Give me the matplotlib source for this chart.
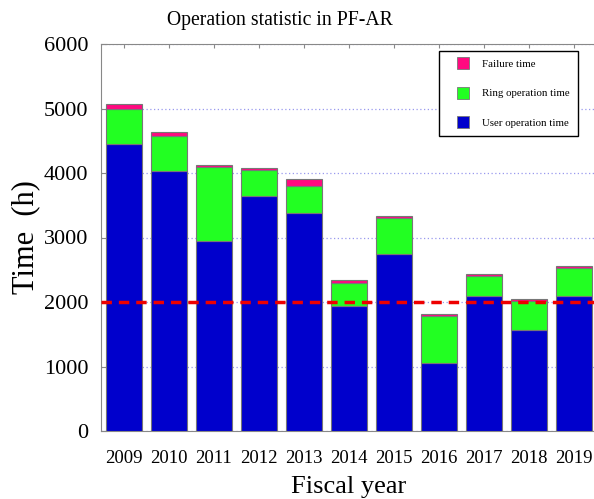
import matplotlib
matplotlib.use("Agg")
import matplotlib.pyplot as plt
from matplotlib.lines import Line2D
import numpy as np

# ── Data ─────────────────────────────────────────────────────────────────────
years = ["2009", "2010", "2011", "2012", "2013", "2014",
         "2015", "2016", "2017", "2018", "2019"]
user_time = [4446, 4036, 2940, 3640, 3373, 1940, 2746, 1062, 2098, 1565, 2088]
ring_time = [539, 534, 1153, 400, 430, 355, 554, 720, 306, 451, 446]
failure_time = [80, 73, 37, 42, 110, 42, 37, 25, 36, 31, 20]
target_line = 2000

colors = {"user": "#0000cc", "ring": "#22ff22", "fail": "#ff0a80"}

plt.rcParams["font.family"] = ["Liberation Serif", "DejaVu Serif"]

fig = plt.figure(figsize=(5.94, 4.99), dpi=100)
ax = fig.add_axes([101 / 594, 1 - 431 / 499, 495.5 / 594, 387 / 499])

x = np.arange(len(years))
edge = dict(edgecolor="#777777", linewidth=0.8, width=0.8)
user = np.array(user_time)
ring = np.array(ring_time)
fail = np.array(failure_time)

ax.bar(x, user, color=colors["user"], zorder=3, **edge)
ax.bar(x, ring, bottom=user, color=colors["ring"], zorder=3, **edge)
ax.bar(x, fail, bottom=user + ring, color=colors["fail"], zorder=3, **edge)

ax.axhline(target_line, color="#ee0000", linestyle=(0, (3, 2)), linewidth=2.5, zorder=4)

ax.set_ylim(0, 6000)
ax.set_xlim(-0.5, len(years) - 0.5)
ax.set_yticks(range(0, 6001, 1000))
ax.set_xticks(x)
ax.set_xticklabels(years, fontsize=13.5)
ax.tick_params(axis="y", labelsize=16, direction="in", length=4, color="#888888", pad=9)
ax.tick_params(axis="x", direction="in", length=3, color="#888888", top=True, pad=14)
ax.yaxis.grid(True, linestyle=(0, (1, 2)), color="#9999ee", linewidth=0.9, zorder=0)
for s in ax.spines.values():
    s.set_color("#888888")

# title sits left of the axes centre in the original
ax.text(0.361, 1.035, "Operation statistic in PF-AR", transform=ax.transAxes,
        ha="center", va="bottom", fontsize=14.2)
ax.set_ylabel("Time  (h)", fontsize=22, labelpad=3)
ax.set_xlabel("Fiscal year", fontsize=19, labelpad=6)

# square markers as legend handles, so the squares sit inset like the original
handles = [Line2D([], [], linestyle="none", marker="s", markersize=9.3,
                  markerfacecolor=colors[k], markeredgecolor="#777777",
                  markeredgewidth=0.6)
           for k in ("fail", "ring", "user")]
leg = ax.legend(handles,
                ["Failure time", "Ring operation time", "User operation time"],
                loc="upper right", bbox_to_anchor=(0.963, 0.982), borderaxespad=0,
                fontsize=7.8, numpoints=1,
                fancybox=False, edgecolor="black", framealpha=1,
                handlelength=2.9, labelspacing=1.85,
                borderpad=0.75, handletextpad=0.33)
leg.get_frame().set_linewidth(1.0)

fig.savefig("out.png", dpi=100)
